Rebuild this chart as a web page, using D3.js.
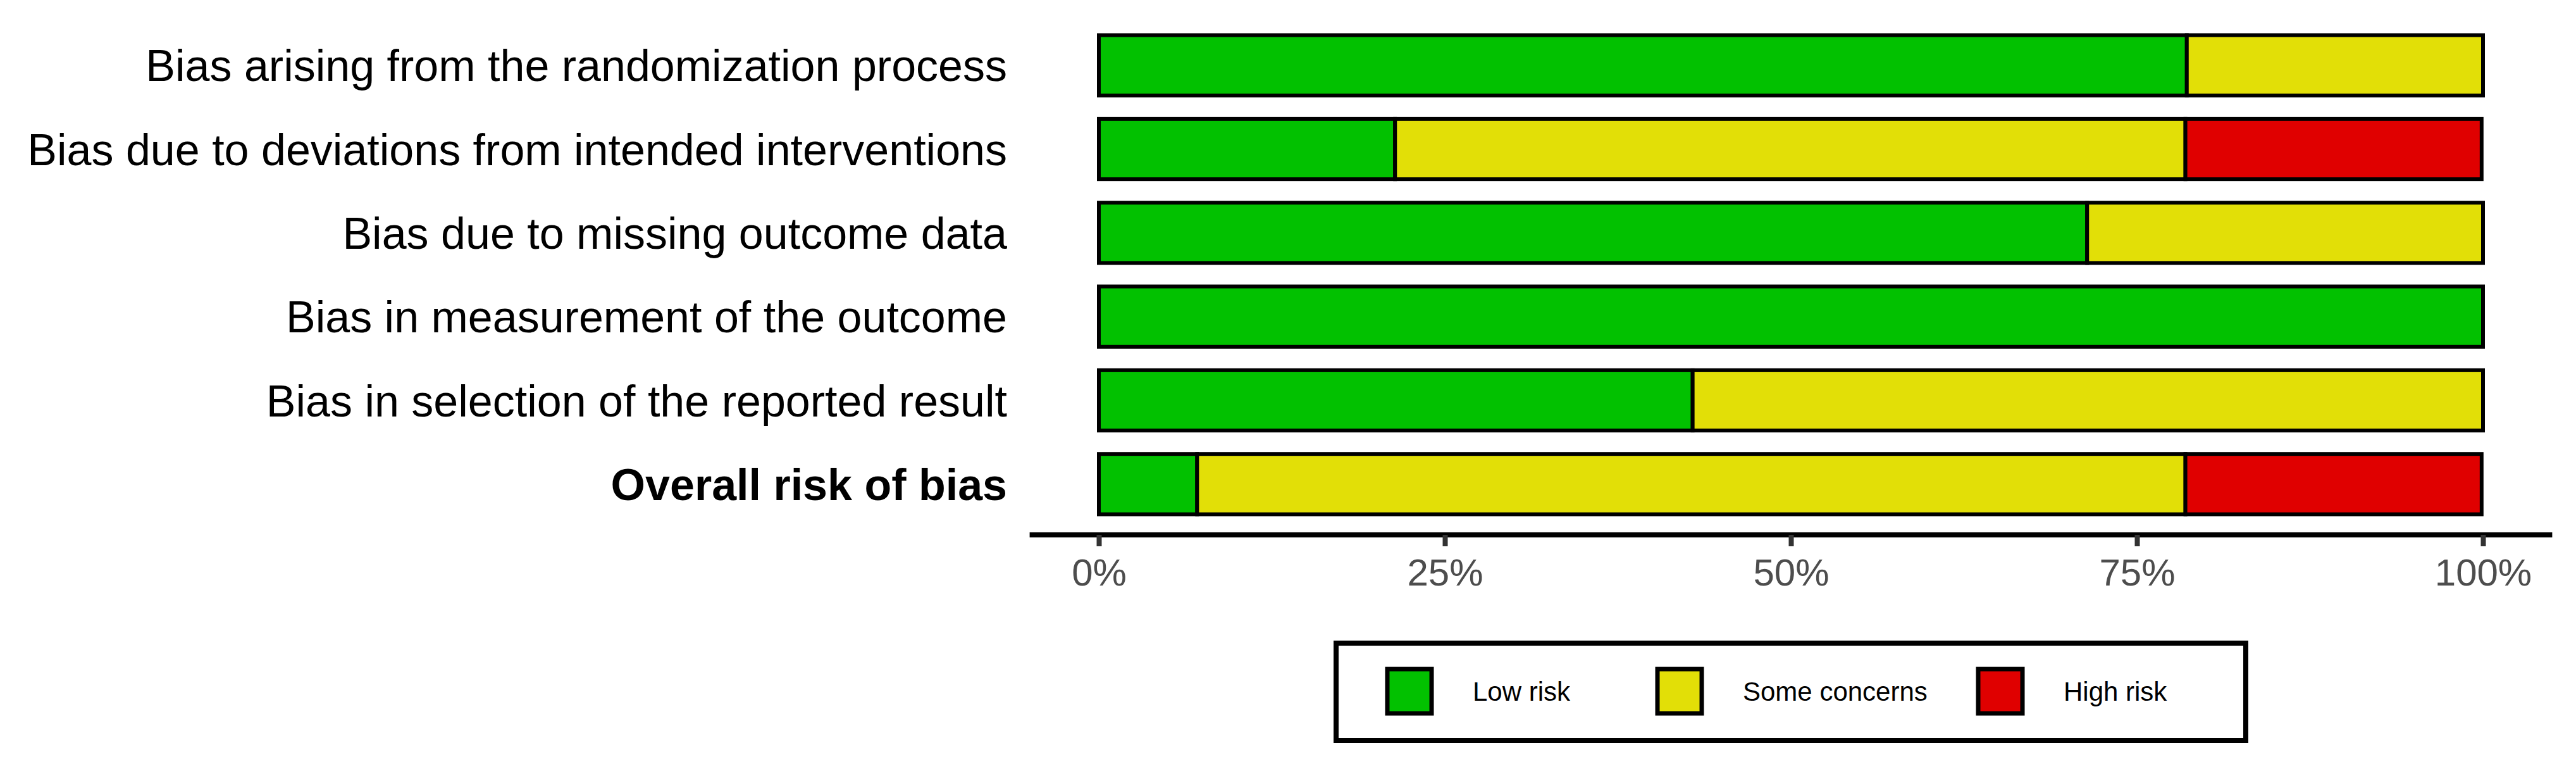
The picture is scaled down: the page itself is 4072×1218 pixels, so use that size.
<!DOCTYPE html>
<html>
<head>
<meta charset="utf-8">
<script src="https://cdn.jsdelivr.net/npm/d3@7"></script>
<style>
  html, body { margin: 0; padding: 0; background: #fff; }
  svg { display: block; }
</style>
</head>
<body>
<div id="chart"></div>
<script>
// domains, top to bottom
const domains = [
  "Bias arising from the randomization process",
  "Bias due to deviations from intended interventions",
  "Bias due to missing outcome data",
  "Bias in measurement of the outcome",
  "Bias in selection of the reported result",
  "Overall risk of bias"
];
// percent of studies per judgement
const lowRisk      = [78.6, 21.4, 71.4, 100, 42.9, 7.1];
const someConcerns = [21.4, 57.1, 28.6, 0, 57.1, 71.4];
const highRisk     = [0, 21.4, 0, 0, 0, 21.4];
const judgements = ["Low risk", "Some concerns", "High risk"];
const judgementColors = ["#02C100", "#E2DF07", "#E00000"];
const xTicks = [0, 25, 50, 75, 100];

const width = 4072, height = 1218;
const font = "'Liberation Sans', Arial, Helvetica, sans-serif";

const svg = d3.select("#chart").append("svg")
  .attr("width", width)
  .attr("height", height);

svg.append("rect").attr("width", width).attr("height", height).attr("fill", "#fff");

const x = d3.scaleLinear().domain([0, 100]).range([1737, 3925]);
const y = d3.scaleBand()
  .domain(domains)
  .range([37, 831])
  .paddingInner(0.28)
  .paddingOuter(0.14);

const rows = domains.map((d, i) => ({
  domain: d,
  "Low risk": lowRisk[i],
  "Some concerns": someConcerns[i],
  "High risk": highRisk[i]
}));

const stack = d3.stack().keys(judgements);
const series = stack(rows);
const color = d3.scaleOrdinal().domain(judgements).range(judgementColors);

const bars = svg.append("g");
series.forEach((s) => {
  bars.selectAll(null)
    .data(s.filter(d => d[1] - d[0] > 0))
    .enter().append("rect")
    .attr("x", d => x(d[0]))
    .attr("y", d => y(d.data.domain))
    .attr("width", d => x(d[1]) - x(d[0]))
    .attr("height", y.bandwidth())
    .attr("fill", color(s.key))
    .attr("stroke", "#000")
    .attr("stroke-width", 6);
});

// domain labels
svg.append("g").selectAll("text")
  .data(domains)
  .enter().append("text")
  .attr("x", 1592)
  .attr("y", d => y(d) + y.bandwidth() / 2)
  .attr("dy", "0.36em")
  .attr("text-anchor", "end")
  .style("font-family", font)
  .style("font-size", "70px")
  .style("font-weight", (d, i) => i === domains.length - 1 ? "bold" : "normal")
  .attr("fill", "#000")
  .text(d => d);

// x axis
const axisY = 845;
svg.append("line")
  .attr("x1", x(-5)).attr("x2", x(105))
  .attr("y1", axisY).attr("y2", axisY)
  .attr("stroke", "#000")
  .attr("stroke-width", 8);

const axis = svg.append("g")
  .attr("transform", "translate(0," + axisY + ")")
  .call(d3.axisBottom(x)
    .tickValues(xTicks)
    .tickFormat(d => d + "%")
    .tickSize(18)
    .tickPadding(19));
axis.select(".domain").remove();
axis.selectAll(".tick line")
  .attr("stroke", "#333")
  .attr("stroke-width", 8);
axis.selectAll(".tick text")
  .attr("fill", "#4D4D4D")
  .style("font-family", font)
  .style("font-size", "60px");

// legend
const legend = svg.append("g");
legend.append("rect")
  .attr("x", 2112).attr("y", 1016)
  .attr("width", 1438).attr("height", 154)
  .attr("fill", "#fff")
  .attr("stroke", "#000")
  .attr("stroke-width", 8);

const keyX = [2193, 2620, 3127];
const keySize = 70, keyY = 1057;
const items = legend.selectAll("g.item")
  .data(judgements)
  .enter().append("g")
  .attr("class", "item")
  .attr("transform", (d, i) => "translate(" + keyX[i] + "," + keyY + ")");
items.append("rect")
  .attr("width", keySize).attr("height", keySize)
  .attr("fill", d => color(d))
  .attr("stroke", "#000")
  .attr("stroke-width", 7);
items.append("text")
  .attr("x", 135)
  .attr("y", keySize / 2)
  .attr("dy", "0.36em")
  .style("font-family", font)
  .style("font-size", "42px")
  .attr("fill", "#000")
  .text(d => d);
</script>
</body>
</html>
